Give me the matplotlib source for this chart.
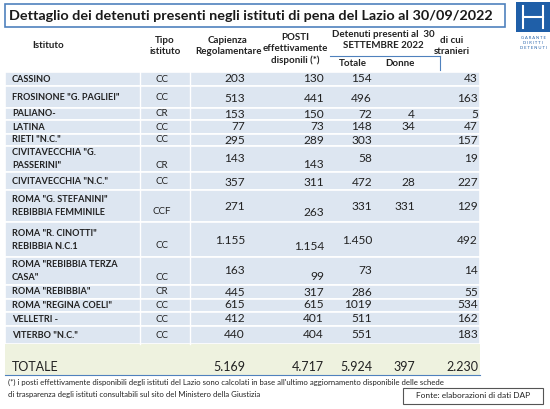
import matplotlib.pyplot as plt
from matplotlib.patches import Rectangle

plt.rcParams['font.family'] = ['Lato', 'DejaVu Sans']

istituti = ['CASSINO', 'FROSINONE "G. PAGLIEI"', 'PALIANO-', 'LATINA', 'RIETI "N.C."',
            'CIVITAVECCHIA "G.\nPASSERINI"', 'CIVITAVECCHIA "N.C."', 'ROMA "G. STEFANINI"\nREBIBBIA FEMMINILE',
            'ROMA "R. CINOTTI"\nREBIBBIA N.C.1', 'ROMA "REBIBBIA TERZA\nCASA"', 'ROMA "REBIBBIA"',
            'ROMA "REGINA COELI"', 'VELLETRI -', 'VITERBO "N.C."']
tipo = ['CC', 'CC', 'CR', 'CC', 'CC', 'CR', 'CC', 'CCF', 'CC', 'CC', 'CR', 'CC', 'CC', 'CC']
capienza = ['203', '513', '153', '77', '295', '143', '357', '271', '1.155', '163', '445', '615', '412', '440']
posti = ['130', '441', '150', '73', '289', '143', '311', '263', '1.154', '99', '317', '615', '401', '404']
totale = ['154', '496', '72', '148', '303', '58', '472', '331', '1.450', '73', '286', '1019', '511', '551']
donne = ['', '', '4', '34', '', '', '28', '331', '', '', '', '', '', '']
stranieri = ['43', '163', '5', '47', '157', '19', '227', '129', '492', '14', '55', '534', '162', '183']
tot_row = ['5.169', '4.717', '5.924', '397', '2.230']

rows = [(72, 86), (86, 108), (108, 120), (120, 134), (134, 146), (146, 172), (172, 190),
        (190, 222), (222, 257), (257, 285), (285, 299), (299, 312), (312, 326), (326, 344)]
text_y = [79, 98, 114, 127, 140, 159, 182, 206, 240, 271, 292, 305, 319, 335]

W, H = 550, 409
fig = plt.figure(figsize=(5.5, 4.09), dpi=100)
ax = fig.add_axes([0, 0, 1, 1])
ax.set_xlim(0, W); ax.set_ylim(H, 0); ax.axis('off')
fs = 7.0
c = '#222222'

ax.add_patch(Rectangle((5, 4), 500, 23, fc='white', ec='#4f81bd', lw=1.2))
ax.text(9, 15.5, 'Dettaglio dei detenuti presenti negli istituti di pena del Lazio al 30/09/2022',
        fontsize=10.4, fontweight='bold', va='center', ha='left', color='#1a1a1a')
ax.add_patch(Rectangle((516, 2), 34, 30, fc='#1f5fa8', ec='none'))
for x in (523, 543):
    ax.plot([x, x], [6, 28], color='white', lw=1.5)
ax.plot([523, 543], [17, 17], color='white', lw=1.5)
for i, t in enumerate(['G A R A N T E', 'D I R I T T I', 'D E T E N U T I']):
    ax.text(533, 38 + i * 5, t, fontsize=3, ha='center', va='center', color='#1f5fa8')

hb = dict(fontsize=fs, fontweight='bold', va='center', color=c, linespacing=1.25)
ax.text(48, 46, 'Istituto', ha='center', **hb)
ax.text(165, 46, 'Tipo\nistituto', ha='center', **hb)
ax.text(228, 46, 'Capienza\nRegolamentare', ha='center', **hb)
ax.text(295, 49, 'POSTI\neffettivamente\ndisponili (*)', ha='center', **hb)
ax.text(383, 40, 'Detenuti presenti al  30\nSETTEMBRE 2022', ha='center', **hb)
ax.text(353, 63, 'Totale', ha='center', **hb)
ax.text(400, 63, 'Donne', ha='center', **hb)
ax.text(452, 46, 'di cui\nstranieri', ha='center', **hb)
ax.plot([330, 440], [56, 56], color='#4f81bd', lw=0.8)
ax.plot([440, 440], [56, 70], color='#4f81bd', lw=0.8)

for i, (t, b) in enumerate(rows):
    ax.add_patch(Rectangle((5, t), 475, b - t, fc='#dde6f1', ec='white', lw=1.2))
    for x in (140, 190):
        ax.plot([x, x], [t, b], color='white', lw=1)
    y = text_y[i]
    two = '\n' in istituti[i]
    ax.text(12, y, istituti[i], fontsize=6.6, fontweight='bold', ha='left', va='center',
            color=c, linespacing=1.45)
    ax.text(162, y + (6 if two else 0), tipo[i], fontsize=fs, ha='center', va='center', color=c)
    ax.text(245, y, capienza[i], fontsize=8.6, ha='right', va='center', color=c)
    ax.text(324, y + (6 if two else 0), posti[i], fontsize=8.6, ha='right', va='center', color=c)
    ax.text(372, y, totale[i], fontsize=8.6, ha='right', va='center', color=c)
    ax.text(415, y, donne[i], fontsize=8.6, ha='right', va='center', color=c)
    ax.text(478, y, stranieri[i], fontsize=8.6, ha='right', va='center', color=c)

ax.add_patch(Rectangle((5, 344), 475, 31, fc='#eef2df', ec='none'))
ax.plot([5, 480], [375, 375], color='#4f81bd', lw=0.8)
ax.text(12, 367, 'TOTALE', fontsize=9, ha='left', va='center', color=c)
for x, v in zip([245, 324, 372, 415, 478], tot_row):
    ax.text(x, 367, v, fontsize=9, ha='right', va='center', color=c)

ax.text(8, 382, "(*) i posti effettivamente disponibili degli istituti del Lazio sono calcolati in base all'ultimo aggiornamento disponibile delle schede",
        fontsize=5.6, ha='left', va='center', color=c)
ax.text(8, 394, 'di trasparenza degli istituti consultabili sul sito del Ministero della Giustizia',
        fontsize=5.6, ha='left', va='center', color=c)
ax.add_patch(Rectangle((403, 388), 140, 16, fc='white', ec='#555555', lw=0.8))
ax.text(473, 396, 'Fonte: elaborazioni di dati DAP', fontsize=6, ha='center', va='center', color=c)

fig.savefig('out.png', dpi=100)
